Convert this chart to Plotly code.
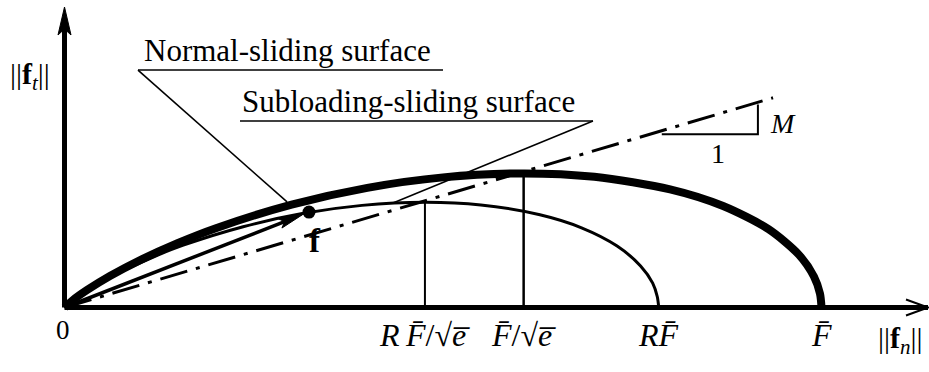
import math
import plotly.graph_objects as go

# Normal-sliding surface (||f_n||, ||f_t||), in units of F-bar
normal_fn = [0.0, 0.01, 0.03, 0.06, 0.10, 0.15, 0.20, 0.30, 0.40, 0.50, 0.6065,
             0.70, 0.80, 0.87, 0.93, 0.97, 0.99, 0.998, 1.0]
normal_ft = [0.0, 0.0089, 0.0232, 0.0416, 0.0627, 0.0853, 0.1048, 0.1359, 0.1581,
             0.1719, 0.1771, 0.1726, 0.1561, 0.1341, 0.1035, 0.0699, 0.0410, 0.0184, 0.0]

# Subloading-sliding surface
sub_fn = [0.0, 0.008, 0.024, 0.047, 0.079, 0.118, 0.157, 0.236, 0.314, 0.393,
          0.476, 0.550, 0.628, 0.683, 0.730, 0.761, 0.777, 0.783, 0.785]
sub_ft = [0.0, 0.0070, 0.0182, 0.0327, 0.0492, 0.0670, 0.0823, 0.1067, 0.1241,
          0.1349, 0.1390, 0.1355, 0.1225, 0.1053, 0.0812, 0.0549, 0.0322, 0.0145, 0.0]

# Parameters
F_BAR = 1.0
R = 0.785
M = 0.296
M_LINE_END = 0.936

# Current traction point f
f_point = (0.323, 0.126)

# Slope triangle of the M-line
tri_fn = [0.789, 0.916, 0.916]
tri_ft = [0.229, 0.229, 0.268]

# Callouts: underline (x0, x1, y) and leader end on the surface
normal_callout = dict(x0=0.0971, x1=0.500, y=0.3137, tip=(0.294, 0.1394))
sub_callout = dict(x0=0.2318, x1=0.6981, y=0.2464, tip=(0.4339, 0.1381))

# Tick values on the ||f_n|| axis
tick_vals = [R * F_BAR / math.sqrt(math.e), F_BAR / math.sqrt(math.e), R * F_BAR, F_BAR]
tick_text = [
    "<i>R</i>\u2009<i>F\u0304</i>/\u221a<i>e\u0305</i>",
    "<i>F\u0304</i>/\u221a<i>e\u0305</i>",
    "<i>R</i><i>F\u0304</i>",
    "<i>F\u0304</i>",
]

# Plot geometry: equal pixel scale on both axes
W, H = 929, 372
S = 757.0          # pixels per unit
X0, Y0 = 64.5, 307.5  # origin in pixels
x_range = [-X0 / S, (W - X0) / S]
y_range = [(Y0 - H) / S, Y0 / S]
x_axis_end = (928 - X0) / S
y_axis_end = (307.5 - 7) / S

FONT = "Liberation Serif"
BLACK = "#000000"

fig = go.Figure()

# M line (dash-dot)
fig.add_trace(go.Scatter(
    x=[0.0, M_LINE_END], y=[0.0, M * M_LINE_END], mode="lines",
    line=dict(color=BLACK, width=3, dash="28px,9px,4px,9px"), hoverinfo="skip"))

# Slope triangle
fig.add_trace(go.Scatter(x=tri_fn, y=tri_ft, mode="lines",
                         line=dict(color=BLACK, width=2), hoverinfo="skip"))

# Surfaces
fig.add_trace(go.Scatter(x=normal_fn, y=normal_ft, mode="lines",
                         line=dict(color=BLACK, width=8, shape="spline", smoothing=0.8),
                         hoverinfo="skip"))
fig.add_trace(go.Scatter(x=sub_fn, y=sub_ft, mode="lines",
                         line=dict(color=BLACK, width=3, shape="spline", smoothing=0.8),
                         hoverinfo="skip"))

# Vertical lines at the surface peaks
for xv, top, w in [(tick_vals[0], max(sub_ft), 2), (tick_vals[1], max(normal_ft), 2.5)]:
    fig.add_trace(go.Scatter(x=[xv, xv], y=[0.0, top], mode="lines",
                             line=dict(color=BLACK, width=w), hoverinfo="skip"))

# Callout lines
for c in (normal_callout, sub_callout):
    fig.add_trace(go.Scatter(x=[c["x1"], c["x0"]], y=[c["y"], c["y"]], mode="lines",
                             line=dict(color=BLACK, width=1.6), hoverinfo="skip"))
lx = normal_callout
fig.add_trace(go.Scatter(x=[lx["x0"], lx["tip"][0]], y=[lx["y"], lx["tip"][1]], mode="lines",
                         line=dict(color=BLACK, width=1.6), hoverinfo="skip"))
lx = sub_callout
fig.add_trace(go.Scatter(x=[lx["x1"], lx["tip"][0]], y=[lx["y"], lx["tip"][1]], mode="lines",
                         line=dict(color=BLACK, width=1.6), hoverinfo="skip"))

# Vector from origin to f with arrowhead
fx, fy = f_point
ang = math.atan2(fy, fx)
ux, uy = math.cos(ang), math.sin(ang)
nx, ny = -uy, ux
standoff, head_len, head_half = 7.0, 24.0, 5.0
shaft_end = (fx - (standoff + head_len * 0.6) * ux / S, fy - (standoff + head_len * 0.6) * uy / S)
fig.add_trace(go.Scatter(x=[0.0, shaft_end[0]], y=[0.0, shaft_end[1]], mode="lines",
                         line=dict(color=BLACK, width=3.5), hoverinfo="skip"))
tip = (-standoff * ux, -standoff * uy)
base = (-(standoff + head_len) * ux, -(standoff + head_len) * uy)
notch = (-(standoff + head_len * 0.8) * ux, -(standoff + head_len * 0.8) * uy)
c1 = (base[0] + head_half * nx, base[1] + head_half * ny)
c2 = (base[0] - head_half * nx, base[1] - head_half * ny)
head_path = "M{:.2f},{:.2f} L{:.2f},{:.2f} L{:.2f},{:.2f} L{:.2f},{:.2f} Z".format(
    tip[0], tip[1], c1[0], c1[1], notch[0], notch[1], c2[0], c2[1])

# Point f
fig.add_trace(go.Scatter(x=[fx], y=[fy], mode="markers",
                         marker=dict(color=BLACK, size=13), hoverinfo="skip"))

shapes = [
    # axes
    dict(type="line", xref="x", yref="y", x0=0, y0=0, x1=x_axis_end, y1=0,
         line=dict(color=BLACK, width=5)),
    dict(type="line", xref="x", yref="y", x0=0, y0=0, x1=0, y1=y_axis_end - 20 / S,
         line=dict(color=BLACK, width=5)),
    # y-axis arrowhead (filled)
    dict(type="path", xref="x", yref="y", xsizemode="pixel", ysizemode="pixel",
         xanchor=0, yanchor=y_axis_end,
         path="M0,0 L-6.5,-28 L0,-22 L6.5,-28 Z",
         fillcolor=BLACK, line=dict(color=BLACK, width=1)),
    # x-axis arrowhead (open chevron)
    dict(type="path", xref="x", yref="y", xsizemode="pixel", ysizemode="pixel",
         xanchor=x_axis_end, yanchor=0,
         path="M-22,8 L0,0 L-22,-8",
         line=dict(color=BLACK, width=2)),
    # arrowhead of vector f
    dict(type="path", xref="x", yref="y", xsizemode="pixel", ysizemode="pixel",
         xanchor=fx, yanchor=fy, path=head_path,
         fillcolor=BLACK, line=dict(color=BLACK, width=1)),
]

ann = []


def label(x, y, text, size, xanchor="center", yanchor="middle"):
    ann.append(dict(x=x, y=y, xref="x", yref="y", text=text, showarrow=False,
                    xanchor=xanchor, yanchor=yanchor,
                    font=dict(family=FONT, size=size, color=BLACK)))


label(0.1023, normal_callout["y"], "Normal-sliding surface", 31, "left", "bottom")
label(0.2318, sub_callout["y"], "Subloading-sliding surface", 31, "left", "bottom")
for xv, tt in zip(tick_vals, tick_text):
    label(xv, -0.0363, tt, 32)
label(-0.002, -0.0297, "0", 27)
label(0.331, 0.0878, "<b>f</b>", 33)
label(-0.0456, 0.3058, "||<b>f</b><sub><i>t</i></sub>||", 30)
label(1.1037, -0.0429, "||<b>f</b><sub><i>n</i></sub>||", 30)
label(0.949, 0.2437, "<i>M</i>", 28)
label(0.8633, 0.2041, "1", 28)

fig.update_layout(
    width=W, height=H, margin=dict(l=0, r=0, t=0, b=0),
    paper_bgcolor="white", plot_bgcolor="white", showlegend=False,
    xaxis=dict(range=x_range, visible=False, fixedrange=True),
    yaxis=dict(range=y_range, visible=False, fixedrange=True),
    shapes=shapes, annotations=ann,
)

fig.write_html("out.html")
